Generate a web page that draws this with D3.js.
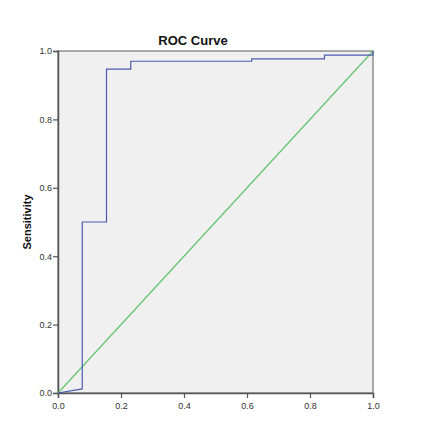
<!DOCTYPE html>
<html>
<head>
<meta charset="utf-8">
<script src="https://cdn.jsdelivr.net/npm/d3@7"></script>
<style>
  body { margin: 0; background: #fff; }
  text { font-family: "Liberation Sans", Arial, sans-serif; }
</style>
</head>
<body>
<script>
// ROC points (1 - specificity, sensitivity)
var fpr  = [0, 0.077, 0.077, 0.154, 0.154, 0.231, 0.231, 0.615, 0.615, 0.846, 0.846, 1.0, 1.0];
var tpr  = [0, 0.012, 0.5,   0.5,   0.947, 0.947, 0.970, 0.970, 0.977, 0.977, 0.988, 0.988, 1.0];
// reference line
var refX = [0, 1];
var refY = [0, 1];
var tickVals = [0, 0.2, 0.4, 0.6, 0.8, 1.0];

var w = 426, h = 423;
var plotL = 58, plotR = 373, plotT = 51, plotB = 393;

var svg = d3.select("body").append("svg")
    .attr("width", w)
    .attr("height", h);

var x = d3.scaleLinear().domain([0, 1]).range([plotL, plotR]);
var y = d3.scaleLinear().domain([0, 1]).range([plotB, plotT]);

// plot background + frame
svg.append("rect")
   .attr("x", plotL).attr("y", plotT)
   .attr("width", plotR - plotL).attr("height", plotB - plotT)
   .attr("fill", "#f0f0f0")
   .attr("stroke", "#777")
   .attr("stroke-width", 1.2);

// axes
var xAxis = svg.append("g")
   .attr("transform", "translate(0," + plotB + ")")
   .call(d3.axisBottom(x).tickValues(tickVals).tickFormat(d3.format(".1f")).tickSize(5).tickPadding(5));
var yAxis = svg.append("g")
   .attr("transform", "translate(" + plotL + ",0)")
   .call(d3.axisLeft(y).tickValues(tickVals).tickFormat(d3.format(".1f")).tickSize(5).tickPadding(1));

[xAxis, yAxis].forEach(function(g) {
  g.select(".domain").attr("stroke", "#555").attr("stroke-width", 1.5);
  g.selectAll(".tick line").attr("stroke", "#555").attr("stroke-width", 1.2);
  g.selectAll(".tick text")
   .attr("font-size", "9px")
   .attr("fill", "#333")
   .attr("font-family", "Liberation Sans, Arial, sans-serif");
});

// diagonal reference
var line = d3.line()
   .x(function(d) { return x(d[0]); })
   .y(function(d) { return y(d[1]); });

svg.append("path")
   .datum(d3.zip(refX, refY))
   .attr("d", line)
   .attr("fill", "none")
   .attr("stroke", "#62c46e")
   .attr("stroke-width", 1.2);

// ROC curve
svg.append("path")
   .datum(d3.zip(fpr, tpr))
   .attr("d", line)
   .attr("fill", "none")
   .attr("stroke", "#4a5cb0")
   .attr("stroke-width", 1.2);

// title
svg.append("text")
   .attr("x", 193)
   .attr("y", 45)
   .attr("text-anchor", "middle")
   .attr("font-size", "13px")
   .attr("font-weight", "bold")
   .attr("fill", "#111")
   .text("ROC Curve");

// y label
svg.append("text")
   .attr("transform", "translate(31," + ((plotT + plotB) / 2) + ") rotate(-90)")
   .attr("text-anchor", "middle")
   .attr("font-size", "11px")
   .attr("font-weight", "bold")
   .attr("fill", "#111")
   .text("Sensitivity");
</script>
</body>
</html>
